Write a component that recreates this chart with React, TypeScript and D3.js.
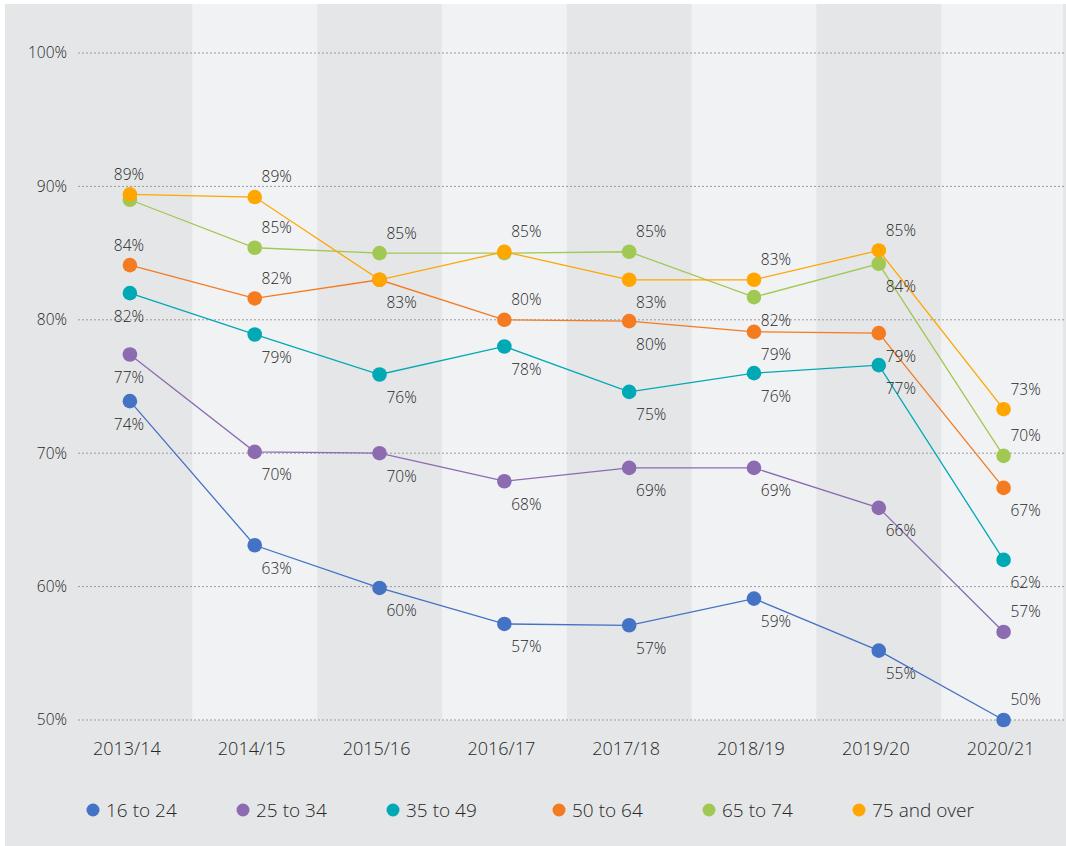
import React from "react";
import * as d3 from "d3";

const categories = ["2013/14", "2014/15", "2015/16", "2016/17", "2017/18", "2018/19", "2019/20", "2020/21"];
const yTicks = [50, 60, 70, 80, 90, 100];

const seriesNames = ["16 to 24", "25 to 34", "35 to 49", "50 to 64", "65 to 74", "75 and over"];
const seriesColors = ["#4472c4", "#8c6bb1", "#00a9b4", "#f47b20", "#a2c854", "#ffa600"];

const v16to24 = [73.9, 63.1, 59.9, 57.2, 57.1, 59.1, 55.2, 50.0];
const v25to34 = [77.4, 70.1, 70.0, 67.9, 68.9, 68.9, 65.9, 56.6];
const v35to49 = [82.0, 78.9, 75.9, 78.0, 74.6, 76.0, 76.6, 62.0];
const v50to64 = [84.1, 81.6, 83.0, 80.0, 79.9, 79.1, 79.0, 67.4];
const v65to74 = [89.0, 85.4, 85.0, 85.0, 85.1, 81.7, 84.2, 69.8];
const v75over = [89.4, 89.2, 83.0, 85.1, 83.0, 83.0, 85.2, 73.3];

// label placement: a = above, b = below, n = none
const lab16to24 = ["b", "b", "b", "b", "b", "b", "b", "a"];
const lab25to34 = ["b", "b", "b", "b", "b", "b", "b", "a"];
const lab35to49 = ["b", "b", "b", "b", "b", "b", "b", "b"];
const lab50to64 = ["a", "a", "b", "a", "b", "b", "b", "b"];
const lab65to74 = ["n", "a", "a", "n", "a", "b", "b", "a"];
const lab75over = ["a", "a", "n", "a", "b", "a", "a", "a"];

const allValues = [v16to24, v25to34, v35to49, v50to64, v65to74, v75over];
const allLabels = [lab16to24, lab25to34, lab35to49, lab50to64, lab65to74, lab75over];

const W = 1066;
const H = 846;
const FONT = "'Open Sans', 'Noto Sans', sans-serif";
const TEXT = "#262626";

export default function App() {
  const x = d3.scaleBand<string>().domain(categories).range([67.5, 1066]).paddingInner(0).paddingOuter(0);
  const bw = x.bandwidth();
  const cx = (c: string) => (x(c) as number) + bw / 2;
  const y = d3.scaleLinear().domain([50, 100]).range([720, 53]);
  const line = d3
    .line<number>()
    .x((_, i) => cx(categories[i]))
    .y((v) => y(v));

  const plotTop = 4;
  const plotBottom = 720;

  return (
    <svg
      width={W}
      height={H}
      style={{ position: "absolute", left: 0, top: 0, display: "block" }}
      fontFamily={FONT}
      fontWeight={300}
    >
      <rect x={0} y={0} width={W} height={H} fill="#ffffff" />
      <rect x={5} y={4} width={W - 5} height={H - 4} fill="#e5e6e8" />
      {categories.map((c, i) =>
        i % 2 === 1 ? (
          <rect
            key={c}
            x={x(c) as number}
            y={plotTop}
            width={Math.min(bw, 1063 - (x(c) as number))}
            height={plotBottom - plotTop}
            fill="#f1f2f4"
          />
        ) : null
      )}
      {yTicks.map((t) => (
        <g key={t}>
          <line
            x1={78}
            x2={1064}
            y1={y(t)}
            y2={y(t)}
            stroke="#9b9b9b"
            strokeWidth={1}
            strokeDasharray="2,2"
          />
          <text x={67} y={y(t)} dy="0.35em" textAnchor="end" fontSize={15.5} fill={TEXT}>
            {t}%
          </text>
        </g>
      ))}
      {categories.map((c) => (
        <text key={c} x={cx(c) - 3} y={749} dy="0.35em" textAnchor="middle" fontSize={18} fill={TEXT}>
          {c}
        </text>
      ))}
      {allValues.map((vals, s) => (
        <g key={seriesNames[s]}>
          <path d={line(vals) || ""} fill="none" stroke={seriesColors[s]} strokeWidth={1.3} />
          {vals.map((v, i) => (
            <circle key={i} cx={cx(categories[i])} cy={y(v)} r={7.3} fill={seriesColors[s]} />
          ))}
        </g>
      ))}
      {allValues.map((vals, s) =>
        vals.map((v, i) => {
          const pos = allLabels[s][i];
          if (pos === "n") return null;
          const lx = cx(categories[i]) + (i === 0 ? -1 : 22);
          const ly = y(v) + (pos === "a" ? -20 : 23);
          return (
            <text
              key={`${s}-${i}`}
              x={lx}
              y={ly}
              dy="0.35em"
              textAnchor="middle"
              fontSize={15.5}
              fill={TEXT}
            >
              {Math.round(v)}%
            </text>
          );
        })
      )}
      {seriesNames.map((n, s) => (
        <g key={n} transform={`translate(${s < 3 ? 93 + s * 150 : 559 + (s - 3) * 150},810)`}>
          <circle cx={0} cy={0} r={6.5} fill={seriesColors[s]} />
          <text x={13} y={0} dy="0.35em" fontSize={19} fill={TEXT}>
            {n}
          </text>
        </g>
      ))}
    </svg>
  );
}
